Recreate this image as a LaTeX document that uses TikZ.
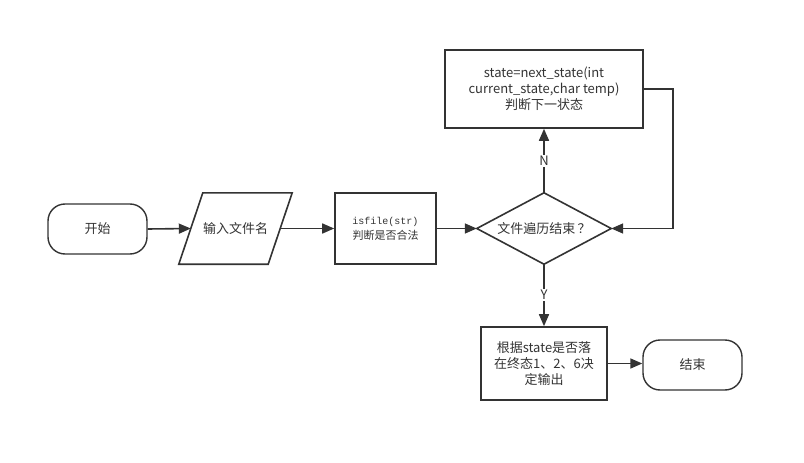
\documentclass[tikz,border=0pt]{standalone}
\usepackage{fontspec}
\setmainfont{Noto Sans CJK SC}
\newfontfamily\codefont{Liberation Mono}
\usetikzlibrary{arrows.meta}
\usetikzlibrary{positioning}

\definecolor{linegray}{HTML}{333333}

\tikzset{
  flowline/.style={draw=linegray, line width=1.6pt},
  flowarrow/.style={flowline, -{Triangle[length=12pt,width=10pt]}},
  termbox/.style={draw=linegray, line width=1.4pt, rounded corners=17pt,
    minimum width=99pt, minimum height=50pt, text=linegray},
  procbox/.style={draw=linegray, line width=1.6pt, align=center, text=linegray},
  plainbox/.style={inner sep=0pt, text=linegray},
  flowlabel/.style={fill=white, inner sep=1.5pt, text=linegray}
}

\begin{document}
\begin{tikzpicture}[x=1pt,y=-1pt,font=\fontsize{13}{16}\selectfont]
\useasboundingbox (0,0) rectangle (804,463);

% terminals
\node[termbox] (start) at (97.5,229) {开始};
\node[termbox] (stop) at (692.5,365) {结束};

% input parallelogram
\node[plainbox, minimum width=89pt, minimum height=71pt] (input) at (235.5,228.5) {输入文件名};
\draw[flowline] ([xshift=-12pt]input.south west) -- ([xshift=12pt]input.north west)
  -- ([xshift=12pt]input.north east) -- ([xshift=-12pt]input.south east) -- cycle;

% check and decision
\node[procbox, minimum width=101pt, minimum height=71pt] (check) at (385.5,228.5)
  {{\fontsize{10}{12}\selectfont\codefont isfile(str)}\\[-1pt]{\fontsize{11}{13}\selectfont 判断是否合法}};
\node[plainbox, minimum width=134pt, minimum height=71pt] (done) at (544,228.5) {文件遍历结束\,？};
\draw[flowline] (done.west) -- (done.north) -- (done.east) -- (done.south) -- cycle;

\node[procbox, minimum width=198pt, minimum height=78pt] (next) at (544,89)
  {state=next\_state(int\\current\_state,char temp)\\判断下一状态};
\node[procbox, minimum width=126pt, minimum height=73pt] (result) at (544,363.5)
  {根据state是否落\\在终态1、2、6决\\定输出};
\coordinate (back) at (673,89);

% connectors
\draw[flowarrow] (start.east) -- (input.west);
\draw[flowarrow] (input.east) -- (check.west);
\draw[flowarrow] (check.east) -- (done.west);
\draw[flowarrow] (done.north) -- node[flowlabel] {N} (next.south);
\draw[flowarrow] (next.east) -- (back) |- (done.east);
\draw[flowarrow] (done.south) -- node[flowlabel] {Y} (result.north);
\draw[flowarrow] (result.east) -- (result.east -| stop.west);

\end{tikzpicture}
\end{document}
